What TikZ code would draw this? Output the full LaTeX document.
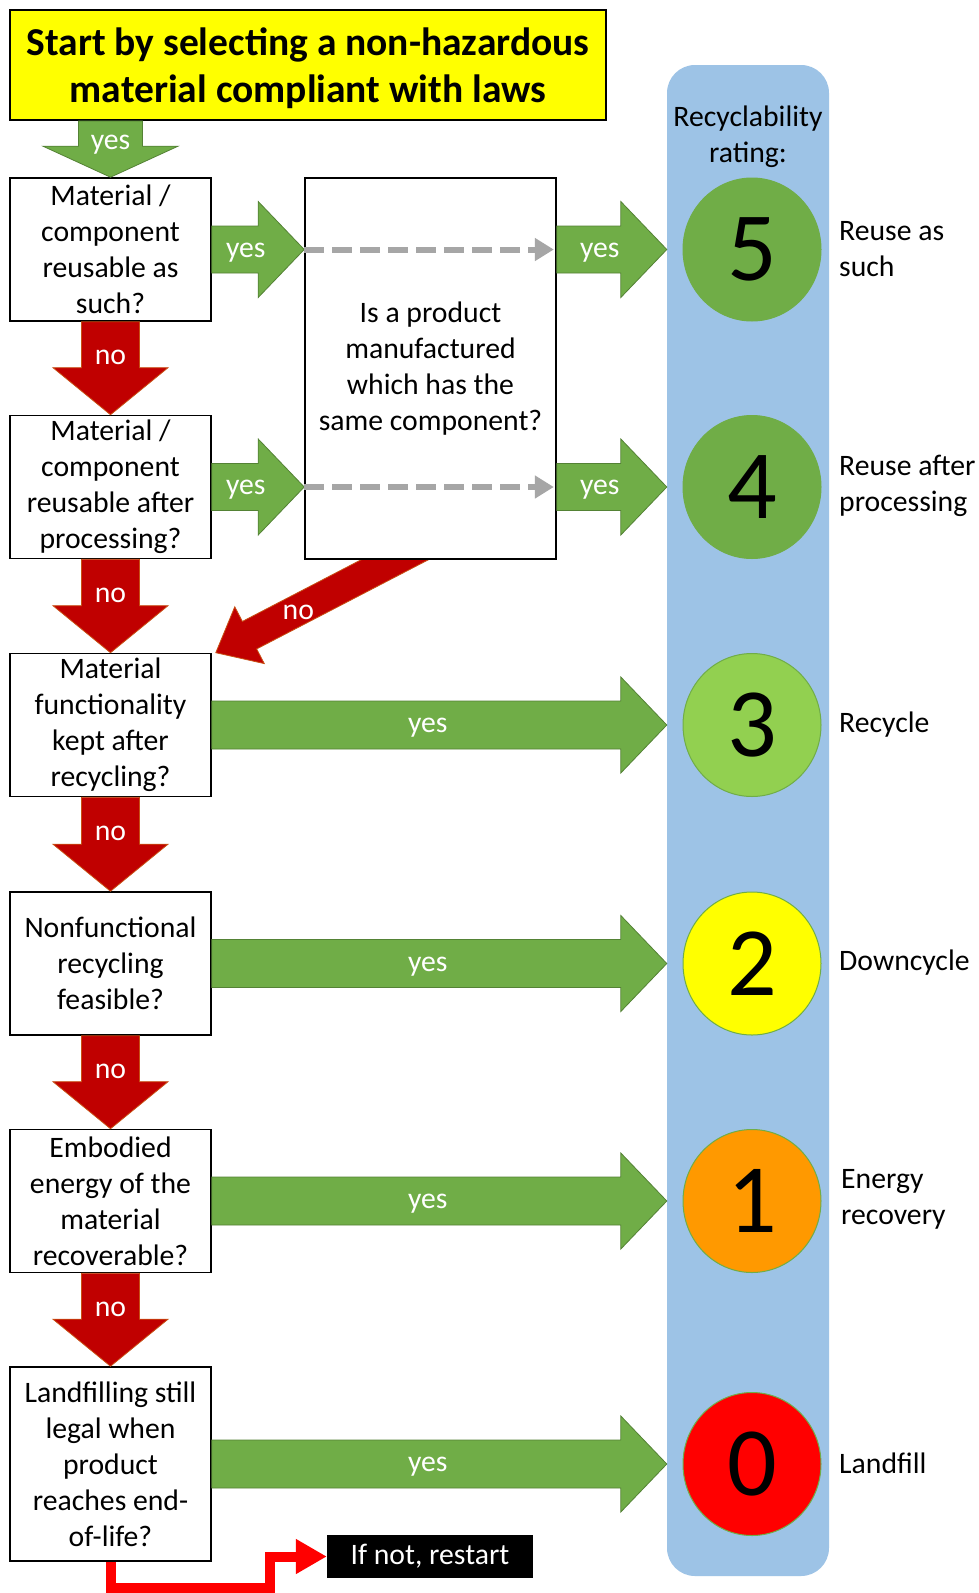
\documentclass[tikz,border=0pt]{standalone}
\usepackage{fontspec}
\setmainfont{Carlito}
\usetikzlibrary{calc,arrows.meta,shapes.geometric}

\definecolor{hdrYellow}{RGB}{255,255,0}
\definecolor{okGreen}{RGB}{112,173,71}
\definecolor{okGreenDark}{RGB}{84,130,53}
\definecolor{noRed}{RGB}{192,0,0}
\definecolor{noRedEdge}{RGB}{200,80,20}
\definecolor{colBlue}{RGB}{157,195,230}
\definecolor{dashGray}{RGB}{166,166,166}
\definecolor{lightGreen}{RGB}{146,208,80}
\definecolor{ratingOrange}{RGB}{255,153,0}
\definecolor{ratingRed}{RGB}{255,0,0}

\pgfdeclarelayer{background}
\pgfsetlayers{background,main}

% block arrow: style, tail, tip, half shaft width, half head width, head length
\newcommand\blockarrow[6]{%
  \path ($(#3)!#6!(#2)$) coordinate (bah);
  \filldraw[#1] ($(#2)!#4!90:(#3)$) -- ($(bah)!#4!90:(#3)$) -- ($(bah)!#5!90:(#3)$)
    -- (#3) -- ($(bah)!#5!-90:(#3)$) -- ($(bah)!#4!-90:(#3)$) -- ($(#2)!#4!-90:(#3)$) -- cycle;
}

\begin{document}
\begin{tikzpicture}[x=1pt,y=-1pt,
  every node/.style={font=\fontsize{29.7}{36}\selectfont, inner sep=0pt},
  qbox/.style={draw=black, line width=1.6pt, fill=white, minimum width=201pt, minimum height=143pt, align=center},
  header/.style={draw=black, line width=1.8pt, fill=hdrYellow, minimum width=596pt, minimum height=110pt, align=center, text depth=0pt, font=\bfseries\fontsize{39.5}{46.5}\selectfont},
  rating/.style={ellipse, draw=okGreen, line width=1pt, minimum width=138pt, minimum height=143pt, font=\fontsize{98}{98}\selectfont},
  yesarrow/.style={fill=okGreen, draw=okGreenDark, line width=0.8pt},
  noarrow/.style={fill=noRed, draw=noRedEdge, line width=0.8pt},
  armlabel/.style={text=white, yshift=-3pt},
  rlabel/.style={anchor=west, align=left},
  hint/.style={draw=dashGray, line width=6pt, dash pattern=on 19.5pt off 8.5pt, -{Triangle[length=19pt,width=22pt]}},
  restart/.style={draw=red, line width=10pt, line join=miter, -{Triangle[length=31pt,width=33pt]}},
]
\begin{pgfonlayer}{background}
\fill[white] (0,0) rectangle (979,1593);
\end{pgfonlayer}
\useasboundingbox (0,0) rectangle (979,1593);

% rating column
\node[fill=colBlue, rounded corners=28pt, minimum width=162pt, minimum height=1511pt] (col) at (748,820.5) {};
\node[align=center] (coltitle) at (748,136.5) {Recyclability\\rating:};

% header and questions
\node[header] (hdr) at (308,65) {Start by selecting a non-hazardous\\material compliant with laws};
\node[qbox] (b1) at (110.5,249.5) {Material /\\component\\reusable as\\such?};
\node[qbox] (b2) at (110.5,487) {Material /\\component\\reusable after\\processing?};
\node[qbox] (b3) at (110.5,725) {Material\\functionality\\kept after\\recycling?};
\node[qbox] (b4) at (110.5,963.5) {Nonfunctional\\recycling\\feasible?};
\node[qbox] (b5) at (110.5,1201) {Embodied\\energy of the\\material\\recoverable?};
\node[qbox, minimum height=194pt] (b6) at (110.5,1464) {Landfilling still\\legal when\\product\\reaches end-\\of-life?};
\node[qbox, minimum width=251pt, minimum height=381pt] (mid) at (430.5,368.5) {Is a product\\manufactured\\which has the\\same component?};

% rating circles
\node[rating, fill=okGreen] (r5) at (752,249.5) {5};
\node[rating, fill=okGreen] (r4) at (752,487) {4};
\node[rating, fill=lightGreen] (r3) at (752,725) {3};
\node[rating, fill=hdrYellow] (r2) at (752,963.5) {2};
\node[rating, fill=ratingOrange] (r1) at (752,1201) {1};
\node[rating, fill=ratingRed] (r0) at (752,1464) {0};

% rating descriptions
\node[rlabel] (l5) at (839,249.5) {Reuse as\\such};
\node[rlabel] (l4) at (839,486) {Reuse after\\processing};
\node[rlabel] (l3) at (839,724.5) {Recycle};
\node[rlabel] (l2) at (839,962.5) {Downcycle};
\node[rlabel] (l1) at (841,1199.5) {Energy\\recovery};
\node[rlabel] (l0) at (839,1463) {Landfill};

% start arrow
\coordinate (hdrout) at (b1.north |- hdr.south);
\blockarrow{yesarrow}{hdrout}{b1.north}{32pt}{67.5pt}{31pt}
\node[armlabel] (y0) at ($(hdrout)+(0,21)$) {yes};

% "no" arrows down the left column
\blockarrow{noarrow}{b1.south}{b2.north}{29pt}{57.5pt}{47pt}
\node[armlabel] (n1) at ($(b1.south)+(0,33)$) {no};
\blockarrow{noarrow}{b2.south}{b3.north}{29pt}{57.5pt}{47pt}
\node[armlabel] (n2) at ($(b2.south)+(0,33)$) {no};
\blockarrow{noarrow}{b3.south}{b4.north}{29pt}{57.5pt}{47pt}
\node[armlabel] (n3) at ($(b3.south)+(0,33)$) {no};
\blockarrow{noarrow}{b4.south}{b5.north}{29pt}{57.5pt}{47pt}
\node[armlabel] (n4) at ($(b4.south)+(0,33)$) {no};
\blockarrow{noarrow}{b5.south}{b6.north}{29pt}{57.5pt}{47pt}
\node[armlabel] (n5) at ($(b5.south)+(0,33)$) {no};

% diagonal "no" from the product question, tucked behind its box
\coordinate (dtail) at ($(mid.south)+(20,-29)$);
\coordinate (dtip) at ($(b3.north east)+(4,0)$);
\begin{pgfonlayer}{background}
\blockarrow{noarrow}{dtail}{dtip}{15.5pt}{32pt}{38pt}
\end{pgfonlayer}
\node[armlabel] (nd) at ($(dtip)!93pt!(dtail)$) {no};

% first two rows: via the product question
\coordinate (m1) at (mid.west |- b1.east);
\coordinate (m1r) at (mid.east |- b1.east);
\coordinate (e5) at (col.west |- b1.east);
\blockarrow{yesarrow}{b1.east}{m1}{23.5pt}{48pt}{46pt}
\node[armlabel] (y1) at ($(b1.east)+(34,0)$) {yes};
\draw[hint] (m1) -- ($(m1r)+(-3,0)$);
\blockarrow{yesarrow}{m1r}{e5}{23.5pt}{48pt}{46pt}
\node[armlabel] (y1r) at ($(m1r)+(43,0)$) {yes};

\coordinate (m2) at (mid.west |- b2.east);
\coordinate (m2r) at (mid.east |- b2.east);
\coordinate (e4) at (col.west |- b2.east);
\blockarrow{yesarrow}{b2.east}{m2}{23.5pt}{48pt}{46pt}
\node[armlabel] (y2) at ($(b2.east)+(34,0)$) {yes};
\draw[hint] (m2) -- ($(m2r)+(-3,0)$);
\blockarrow{yesarrow}{m2r}{e4}{23.5pt}{48pt}{46pt}
\node[armlabel] (y2r) at ($(m2r)+(43,0)$) {yes};

% remaining rows: straight to the rating
\coordinate (e3) at (col.west |- b3.east);
\blockarrow{yesarrow}{b3.east}{e3}{24pt}{48pt}{46pt}
\node[armlabel] (y3) at ($(b3.east)+(216,0)$) {yes};
\coordinate (e2) at (col.west |- b4.east);
\blockarrow{yesarrow}{b4.east}{e2}{24pt}{48pt}{46pt}
\node[armlabel] (y4) at ($(b4.east)+(216,0)$) {yes};
\coordinate (e1) at (col.west |- b5.east);
\blockarrow{yesarrow}{b5.east}{e1}{24pt}{48pt}{46pt}
\node[armlabel] (y5) at ($(b5.east)+(216,0)$) {yes};
\coordinate (e0) at (col.west |- b6.east);
\blockarrow{yesarrow}{b6.east}{e0}{24pt}{48pt}{46pt}
\node[armlabel] (y6) at ($(b6.east)+(216,0)$) {yes};

% restart loop
\node[fill=black, text=white, minimum width=206pt, minimum height=43pt] (rs) at (430,1556.5) {If not, restart};
\draw[restart] (b6.south) -- ++(0,26) -| ($(rs.west)+(-57,0)$) -- (rs.west);
\end{tikzpicture}
\end{document}
